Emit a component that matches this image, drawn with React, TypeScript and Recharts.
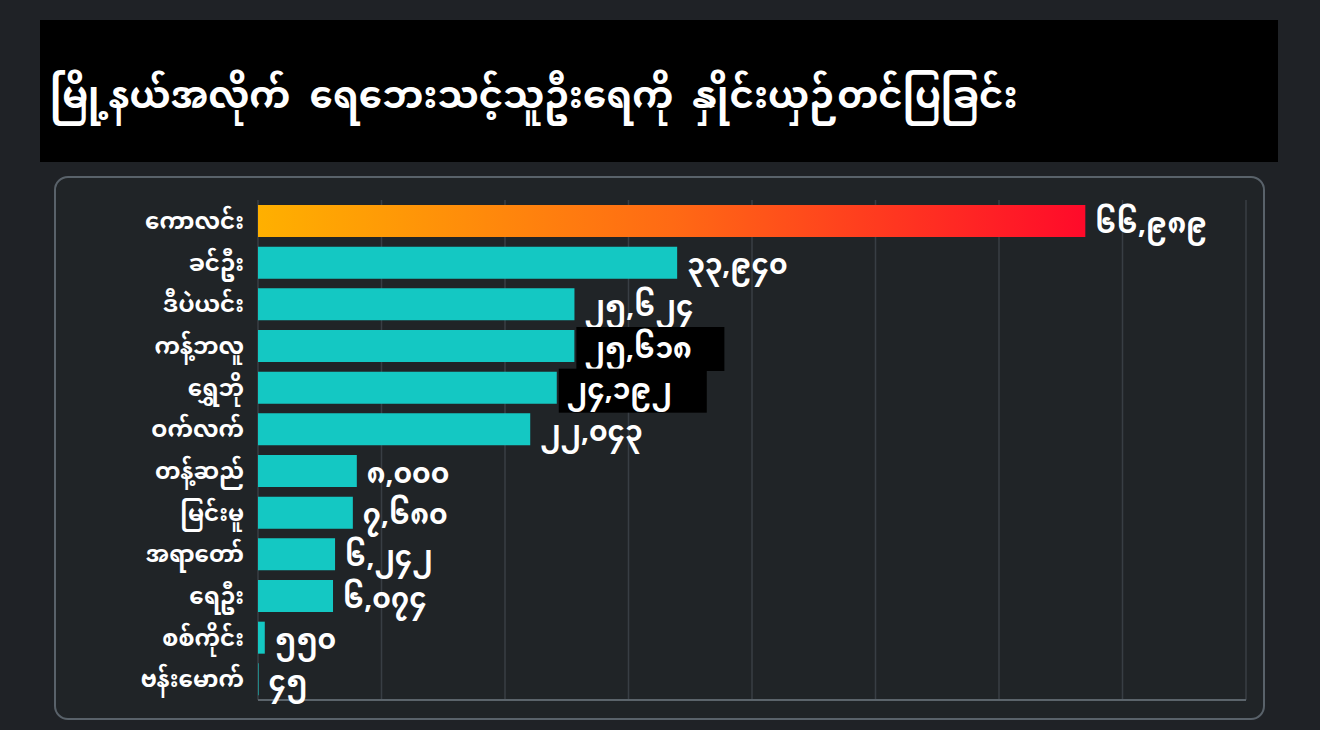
import React from 'react';
import { BarChart, Bar, XAxis, YAxis, CartesianGrid, Cell, LabelList } from 'recharts';

const districts = [
  'ကောလင်း',
  'ခင်ဦး',
  'ဒီပဲယင်း',
  'ကန့်ဘလူ',
  'ရွှေဘို',
  'ဝက်လက်',
  'တန့်ဆည်',
  'မြင်းမူ',
  'အရာတော်',
  'ရေဦး',
  'စစ်ကိုင်း',
  'ဗန်းမောက်',
];

const displaced = [66989, 33940, 25624, 25618, 24192, 22043, 8000, 7680, 6242, 6074, 550, 45];

const xTicks = [0, 10000, 20000, 30000, 40000, 50000, 60000, 70000];

// the two labels that sit on a black patch in the source image
const patchedLabels = ['ကန့်ဘလူ', 'ရွှေဘို'];

const title = 'မြို့နယ်အလိုက်  ရေဘေးသင့်သူဦးရေကို  နှိုင်းယှဉ်တင်ပြခြင်း';

const MM_DIGITS = '၀၁၂၃၄၅၆၇၈၉';
const toMyanmar = (n: number) =>
  n.toLocaleString('en-US').replace(/[0-9]/g, (d) => MM_DIGITS[Number(d)]);

const data = districts.map((name, i) => ({ name, value: displaced[i] }));

const FONT = '"Noto Sans Myanmar", "Padauk", "Myanmar Text", "Noto Sans", sans-serif';

const ValueLabel = (props: any) => {
  const { x, y, width, height, value, index } = props;
  const tx = x + width + 10;
  const cy = y + height / 2;
  const patched = patchedLabels.includes(districts[index]);
  return (
    <g>
      {patched && <rect x={tx - 8} y={cy - 19} width={148} height={44} fill="#000" />}
      <text
        x={tx}
        y={cy + 4}
        fill="#fff"
        fontSize={28}
        fontWeight={700}
        fontFamily={FONT}
        dominantBaseline="middle"
      >
        {toMyanmar(value)}
      </text>
    </g>
  );
};

export default function App() {
  return (
    <div
      style={{
        position: 'fixed',
        left: 0,
        top: 0,
        width: 1320,
        height: 730,
        background: '#1f2226',
        fontFamily: FONT,
      }}
    >
      <div
        style={{
          position: 'absolute',
          left: 40,
          top: 20,
          width: 1238,
          height: 142,
          background: '#000',
          color: '#fff',
          fontSize: 37,
          fontWeight: 700,
          display: 'flex',
          alignItems: 'center',
          paddingLeft: 10,
          paddingTop: 16,
          boxSizing: 'border-box',
          whiteSpace: 'pre',
        }}
      >
        {title}
      </div>
      <div
        style={{
          position: 'absolute',
          left: 54,
          top: 176,
          width: 1211,
          height: 544,
          border: '2px solid #59626a',
          borderRadius: 14,
          background: '#202427',
          boxSizing: 'border-box',
        }}
      />
      <div style={{ position: 'absolute', left: 54, top: 176 }}>
        <BarChart
          width={1211}
          height={544}
          data={data}
          layout="vertical"
          barCategoryGap="12%"
          margin={{ top: 24, right: 19, bottom: 18, left: 0 }}
        >
          <defs>
            <linearGradient id="topBar" x1="0" y1="0" x2="1" y2="0">
              <stop offset="0%" stopColor="#ffb000" />
              <stop offset="50%" stopColor="#ff6a14" />
              <stop offset="100%" stopColor="#ff0a2a" />
            </linearGradient>
          </defs>
          <CartesianGrid horizontal={false} stroke="#383e44" strokeWidth={1.5} />
          <XAxis
            type="number"
            domain={[0, 80000]}
            ticks={xTicks}
            tick={() => <g />}
            tickLine={false}
            axisLine={{ stroke: '#5b646b', strokeWidth: 2 }}
            height={2}
          />
          <YAxis
            type="category"
            dataKey="name"
            width={204}
            axisLine={false}
            tickLine={false}
            tickMargin={8}
            interval={0}
            tick={{ fill: '#fff', fontSize: 23, fontWeight: 700, fontFamily: FONT }}
          />
          <Bar dataKey="value" isAnimationActive={false}>
            {data.map((d, i) => (
              <Cell key={d.name} fill={i === 0 ? 'url(#topBar)' : '#14c8c3'} />
            ))}
            <LabelList dataKey="value" content={ValueLabel} />
          </Bar>
        </BarChart>
      </div>
    </div>
  );
}
